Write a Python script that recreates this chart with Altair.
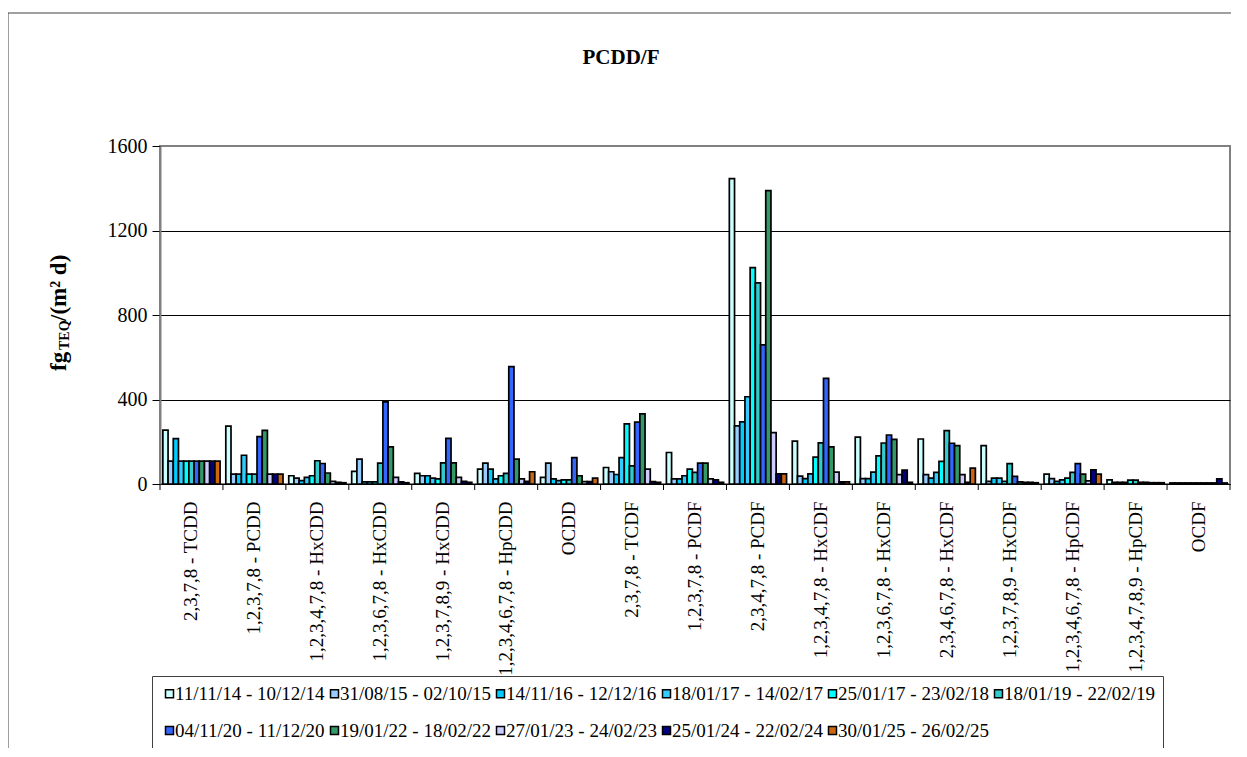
import altair as alt
import pandas as pd

categories = [
    "2,3,7,8 - TCDD", "1,2,3,7,8 - PCDD", "1,2,3,4,7,8 - HxCDD", "1,2,3,6,7,8 - HxCDD",
    "1,2,3,7,8,9 - HxCDD", "1,2,3,4,6,7,8 - HpCDD", "OCDD", "2,3,7,8 - TCDF",
    "1,2,3,7,8 - PCDF", "2,3,4,7,8 - PCDF", "1,2,3,4,7,8 - HxCDF", "1,2,3,6,7,8 - HxCDF",
    "2,3,4,6,7,8 - HxCDF", "1,2,3,7,8,9 - HxCDF", "1,2,3,4,6,7,8 - HpCDF",
    "1,2,3,4,7,8,9 - HpCDF", "OCDF",
]

periods = [
    "11/11/14 - 10/12/14", "31/08/15 - 02/10/15", "14/11/16 - 12/12/16",
    "18/01/17 - 14/02/17", "25/01/17 - 23/02/18", "18/01/19 - 22/02/19",
    "04/11/20 - 11/12/20", "19/01/22 - 18/02/22", "27/01/23 - 24/02/23",
    "25/01/24 - 22/02/24", "30/01/25 - 26/02/25",
]

colors = ["#CCFFFF", "#99CCFF", "#00CCFF", "#33CCFF", "#00FFFF", "#33CCCC",
          "#3366FF", "#339966", "#CCCCFF", "#000080", "#CC6611"]

# values per period (series), one value per congener
s_2014 = [255, 274, 39, 60, 50, 70, 31, 78, 149, 1446, 203, 222, 213, 182, 47, 20, 5]
s_2015 = [108, 47, 28, 118, 39, 99, 99, 58, 24, 275, 37, 25, 44, 12, 25, 8, 5]
s_2016 = [215, 47, 16, 10, 39, 70, 24, 45, 24, 294, 25, 25, 28, 28, 12, 8, 5]
s_2017a = [108, 136, 31, 10, 28, 24, 16, 125, 39, 413, 48, 56, 55, 28, 20, 8, 5]
s_2017b = [108, 47, 39, 10, 24, 39, 20, 285, 70, 1024, 127, 133, 107, 12, 28, 18, 5]
s_2019 = [108, 47, 110, 99, 100, 50, 20, 86, 55, 952, 195, 194, 253, 96, 55, 18, 5]
s_2020 = [108, 224, 97, 389, 216, 556, 125, 293, 99, 659, 500, 232, 193, 36, 96, 8, 5]
s_2022 = [108, 254, 52, 176, 100, 118, 39, 332, 99, 1389, 176, 211, 182, 10, 47, 8, 5]
s_2023 = [108, 47, 12, 31, 31, 24, 11, 70, 24, 243, 56, 44, 44, 8, 15, 6, 5]
s_2024 = [108, 47, 8, 10, 12, 12, 11, 11, 20, 48, 10, 66, 8, 8, 67, 6, 24]
s_2025 = [108, 47, 6, 6, 8, 58, 28, 8, 8, 48, 10, 8, 75, 6, 47, 6, 5]

series = [s_2014, s_2015, s_2016, s_2017a, s_2017b, s_2019, s_2020, s_2022, s_2023, s_2024, s_2025]

rows = []
for p, vals in zip(periods, series):
    for c, v in zip(categories, vals):
        rows.append({"Congener": c, "Period": p, "Value": v})
df = pd.DataFrame(rows)

FONT = "Liberation Serif"

grid_color = {"condition": {"test": "datum.value >= 1600", "value": "#808080"}, "value": "black"}

bars = alt.Chart(df).mark_bar(stroke="black", strokeWidth=1.7).encode(
    x=alt.X("Congener:N", sort=categories,
            scale=alt.Scale(paddingInner=0, paddingOuter=0),
            axis=alt.Axis(title=None, labelAngle=270, ticks=False, labelPadding=17,
                          labelFont=FONT, labelFontSize=19, labelColor="black",
                          domainColor="black", domainWidth=1, grid=False,
                          labelLimit=300)),
    xOffset=alt.XOffset("Period:N", sort=periods,
                        scale=alt.Scale(paddingInner=0, paddingOuter=0.55)),
    y=alt.Y("Value:Q", scale=alt.Scale(domain=[0, 1600]),
            axis=alt.Axis(title=None, values=[0, 400, 800, 1200, 1600], format="d",
                          grid=True, gridColor=grid_color, gridWidth=1, gridOpacity=1,
                          domainColor="#808080", domainWidth=2,
                          tickColor="black", tickSize=8, labelPadding=5,
                          labelFont=FONT, labelFontSize=20, labelColor="black")),
    color=alt.Color("Period:N", sort=periods,
                    scale=alt.Scale(domain=periods, range=colors),
                    legend=alt.Legend(title=None, orient="none", legendX=-8, legendY=530,
                                      direction="horizontal", columns=6,
                                      symbolType="square", symbolSize=64,
                                      symbolStrokeColor="black", symbolStrokeWidth=1.5,
                                      labelFont=FONT, labelFontSize=19, labelColor="black",
                                      labelLimit=400, labelOffset={"expr": "-4"},
                                      columnPadding=0,
                                      rowPadding=17, padding=8, strokeColor="#404040",
                                      fillColor="white")),
)

tick_df = pd.DataFrame({"Congener": categories})
ticks = alt.Chart(tick_df).mark_rule(color="black", strokeWidth=1).encode(
    x=alt.X("Congener:N", sort=categories, bandPosition=0),
    y=alt.value(338), y2=alt.value(344),
)
last_tick = alt.Chart(pd.DataFrame({"Congener": [categories[-1]]})).mark_rule(
    color="black", strokeWidth=1).encode(
    x=alt.X("Congener:N", sort=categories, bandPosition=1),
    y=alt.value(338), y2=alt.value(344),
)

one = pd.DataFrame({"t": ["PCDD/F"]})
title = alt.Chart(one).mark_text(font=FONT, fontSize=21, fontWeight="bold",
                                 align="center", baseline="alphabetic", color="black").encode(
    text="t:N", x=alt.value(461), y=alt.value(-82))

ytitle_parts = [("fg", 23, 225, -101), ("TEQ", 14, 204, -95), ("/(m² d)", 23, 175, -101)]
ytitle_layers = []
for txt, size, yy, xx in ytitle_parts:
    ytitle_layers.append(
        alt.Chart(pd.DataFrame({"t": [txt]})).mark_text(
            font=FONT, fontSize=size, fontWeight="bold", angle=270,
            align="left", baseline="middle", color="black").encode(
            text="t:N", x=alt.value(xx), y=alt.value(yy)))

frame_top = alt.Chart(pd.DataFrame({"a": [0]})).mark_rule(color="#404040", strokeWidth=1).encode(
    x=alt.value(-152), x2=alt.value(1071), y=alt.value(-133))
frame_left = alt.Chart(pd.DataFrame({"a": [0]})).mark_rule(color="#404040", strokeWidth=1).encode(
    x=alt.value(-152), y=alt.value(-133), y2=alt.value(610))

chart = alt.layer(bars, ticks, last_tick, title, *ytitle_layers, frame_top, frame_left).properties(
    width=1070, height=338,
    autosize=alt.AutoSizeParams(type="none"),
    padding={"left": 152, "top": 138, "right": 1, "bottom": 264},
).configure(
    background="white", font=FONT
).configure_view(
    stroke="#808080", strokeWidth=2
).configure_axis(
    labelFont=FONT
).configure_legend(
    labelFont=FONT, labelFontSize=19
).configure_text(
    font=FONT
)

chart.save("out.html", embed_options={"renderer": "svg", "actions": False})
